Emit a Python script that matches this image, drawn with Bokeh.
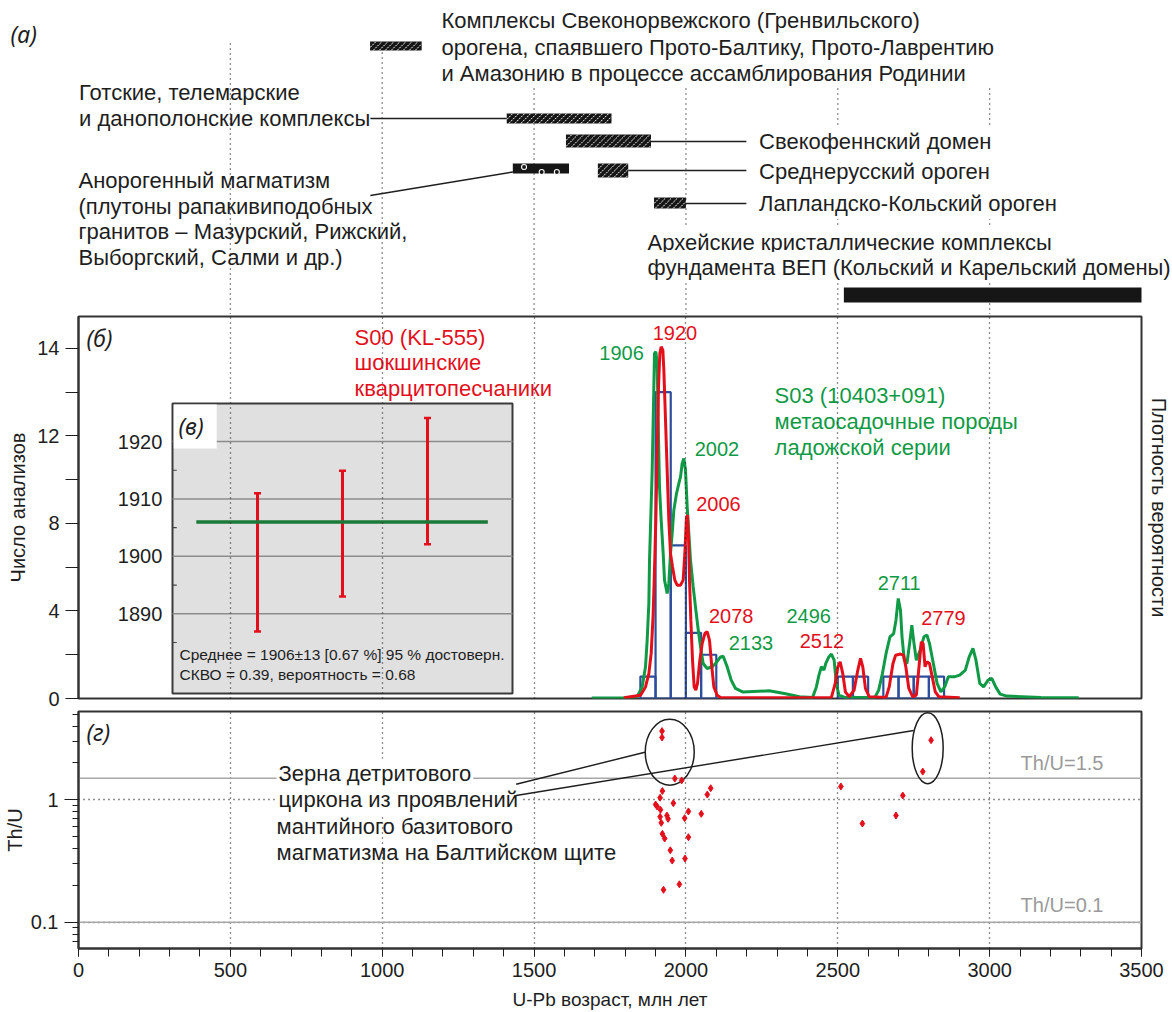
import math
from bokeh.plotting import figure
from bokeh.models import Range1d, FixedTicker, Span, Grid, LinearAxis
from bokeh.layouts import column
from bokeh.embed import file_html
from bokeh.resources import INLINE
from bokeh.core.properties import value

FONT = "Liberation Sans"
IFONT = "Noto Sans"
RED = "#e3101c"
GREEN = "#109a46"
DGREEN = "#1b7a3a"
BLUE = "#2e4d9c"
INK = "#1e1e1e"
GRAY = "#9a9a9a"

# ---------------- data ----------------
# (a) tectonic units, age ranges, Ma
unit_start = [960, 1410, 1605, 1430, 1710, 1895, 2520]
unit_end = [1130, 1755, 1885, 1615, 1810, 2000, 3500]
unit_hatched = [True, True, True, False, True, True, False]
rapakivi_ages = [1467, 1525, 1575]

# (б) histogram
hist_left = [1850, 1900, 1950, 2000, 2050, 2500, 2550, 2650, 2700, 2750, 2800]
hist_right = [1900, 1950, 2000, 2050, 2100, 2550, 2600, 2700, 2750, 2800, 2850]
hist_count = [1, 14, 7, 3, 2, 1, 1, 1, 1, 1, 1]

green_curve = [
    (1690, 0.02), (1800, 0.03), (1839.5, 0.08), (1855.9, 0.53), (1866.9, 1.45), (1872.4, 2.67),
    (1877.9, 4.34), (1880.1, 6.32), (1883.4, 7.85), (1888.9, 10.44), (1892.2, 12.72), (1896.5, 15.77),
    (1900.9, 15.85), (1905.3, 15.31), (1908.6, 12.72), (1913.0, 9.68), (1918.5, 8.15), (1925.1, 6.63),
    (1929.5, 5.41), (1938.2, 4.80), (1943.7, 5.26), (1949.2, 6.63), (1954.7, 7.54), (1960.2, 8.61),
    (1969.0, 9.37), (1976.7, 9.83), (1982.2, 10.13), (1987.6, 10.74), (1993.1, 10.97), (1998.6, 10.44),
    (2004.1, 8.76), (2009.6, 7.54), (2015.1, 6.32), (2023.9, 5.10), (2031.5, 4.19), (2039.2, 3.28),
    (2048.0, 2.36), (2056.8, 1.60), (2069.9, 1.37), (2086.4, 1.45), (2097.4, 1.60), (2113.9, 1.90),
    (2122.6, 1.93), (2135.8, 1.45), (2149.0, 0.84), (2163.2, 0.46), (2179.7, 0.35), (2187, 0.30),
    (2274, 0.35), (2324, 0.23), (2374, 0.08), (2417, 0.05), (2429.5, 0.53), (2438, 1.07),
    (2446, 1.45), (2454.3, 1.30), (2460.5, 1.60), (2470.5, 1.90), (2479, 2.03), (2488, 1.75),
    (2495, 0.69), (2504, 0.15), (2522.6, 0.05), (2622, 0.05), (2634.5, 0.38), (2647, 1.14),
    (2659, 2.06), (2671.8, 2.82), (2684, 2.97), (2691.6, 3.58), (2699, 4.57), (2706.5, 4.03),
    (2711.5, 2.82), (2719, 1.75), (2727.7, 1.60), (2736.4, 2.51), (2743.8, 3.35), (2751, 2.51),
    (2758.7, 1.75), (2771, 2.21), (2783.6, 2.82), (2793.5, 2.90), (2802, 2.51), (2814.6, 1.60),
    (2827, 0.69), (2839.5, 0.30), (2852, 0.53), (2864, 0.99), (2883, 0.99), (2901.6, 1.07),
    (2920, 1.30), (2932.7, 1.90), (2945, 2.29), (2955, 1.75), (2967.5, 0.69), (2980, 0.53),
    (2995, 0.84), (3007, 0.92), (3020, 0.53), (3034.5, 0.20), (3057, 0.11), (3169, 0.05), (3293, 0.03),
]
red_curve = [
    (1795.6, 0.03), (1850.5, 0.15), (1866.9, 0.53), (1877.9, 1.14), (1885.6, 2.06), (1892.2, 3.88),
    (1896.5, 5.87), (1900.9, 8.15), (1905.3, 11.2), (1909.7, 14.25), (1914.1, 15.77), (1918.5, 16.08),
    (1924.0, 15.92), (1927.3, 15.01), (1932.8, 12.72), (1938.2, 10.44), (1943.7, 8.15), (1949.2, 6.63),
    (1955.8, 6.02), (1963.5, 5.41), (1971.2, 5.18), (1982.2, 5.18), (1990.9, 5.41), (1996.4, 6.63),
    (2001.9, 8.30), (2005.2, 8.38), (2008.5, 7.39), (2011.8, 5.41), (2016.2, 3.58), (2021.7, 1.75),
    (2027.1, 0.53), (2032.6, 0.38), (2038.1, 0.69), (2045.8, 1.75), (2053.5, 2.51), (2062.3, 2.97),
    (2069.9, 3.05), (2077.6, 2.67), (2084.2, 1.60), (2091.9, 0.53), (2102.9, 0.15), (2113.9, 0.05),
    (2300, 0.03), (2479, 0.05), (2491.6, 0.69), (2500.3, 1.45), (2507.8, 1.68), (2516.4, 1.14),
    (2525, 0.30), (2537.6, 0.08), (2553.7, 0.38), (2566, 1.30), (2574.9, 1.83), (2582.3, 1.45),
    (2591, 0.46), (2603.4, 0.08), (2659, 0.05), (2669.3, 0.53), (2681.7, 1.60), (2690.4, 1.98),
    (2706.5, 2.03), (2716.5, 1.98), (2724, 1.45), (2733.9, 0.46), (2746.3, 0.08), (2758.7, 0.15),
    (2767.4, 1.45), (2774.9, 2.59), (2781, 2.51), (2787.3, 1.45), (2793.5, 1.68), (2802, 1.60),
    (2811, 0.99), (2821, 0.30), (2833, 0.08), (2901.6, 0.03),
]
green_age = [a for a, _ in green_curve]
green_val = [v for _, v in green_curve]
red_age = [a for a, _ in red_curve]
red_val = [v for _, v in red_curve]

peak_text = ["1906", "1920", "2002", "2006", "2078", "2133", "2496", "2512", "2711", "2779"]
peak_color = [GREEN, RED, GREEN, RED, RED, GREEN, GREEN, RED, GREEN, RED]

# (в) weighted mean inset
inset_idx = [1, 2, 3]
inset_lo = [1886.9, 1893.0, 1902.1]
inset_hi = [1911.0, 1914.9, 1924.1]
inset_mean = 1906
inset_ticks = [1890, 1900, 1910, 1920]
inset_minor = [1885, 1895, 1905, 1915]

# (г) Th/U vs age
thu_age = [1921.3, 1921.3, 1963.5, 1985.9, 1922.5, 1915.0, 1958.6, 1900.2, 1905.1, 1916.3, 1937.4,
           1915.0, 1941.2, 1995.8, 2008.2, 2050.5, 1918.8, 2070.4, 2081.6, 1922.5, 1930.0, 2008.2,
           1948.6, 1954.8, 1997.0, 1978.4, 1926.2, 2510.2, 2581.0, 2691.6, 2714.0, 2779.8, 2807.2]
thu_val = [3.64, 3.23, 1.49, 1.44, 1.18, 1.04, 0.939, 0.915, 0.882, 0.828, 0.744,
           0.726, 0.699, 0.708, 0.803, 0.768, 0.648, 1.104, 1.244, 0.527, 0.483, 0.495,
           0.387, 0.319, 0.331, 0.204, 0.184, 1.284, 0.640, 0.744, 1.084, 1.70, 3.07]
thu_refs = [1.5, 0.1]

age_ticks = [0, 500, 1000, 1500, 2000, 2500, 3000, 3500]
age_grid = [500, 1000, 1500, 2000, 2500, 3000]

# ---------------- layout ----------------
W = 1172
LB, RB = 78, 31
FW = W - LB - RB
PX = FW / 3500.0
TXT = "22px"
NUM = "20px"


def style_text(**kw):
    d = dict(text_font=value(FONT), text_baseline="middle")
    d.update(kw)
    return d


# ----- panel (a) -----
pa = figure(width=W, height=314, x_range=Range1d(-LB / PX, 3500 + RB / PX), y_range=Range1d(314, 0),
            x_axis_location=None, y_axis_location=None, toolbar_location=None,
            output_backend="svg", min_border=0, outline_line_color=None, frame_align=False)
pa.grid.visible = False

vtop = [43, 52, 88, 88, 88, 88]
pa.segment(x0=age_grid, y0=vtop, x1=age_grid, y1=[314] * 6, line_color=INK, line_width=1.3,
           line_dash="1 4")

bar_y0 = [41, 113, 134, 163, 163, 197, 287]
bar_y1 = [50, 123, 147, 173, 177, 208, 302]
pa.quad(left=unit_start, right=unit_end, top=bar_y0, bottom=bar_y1, fill_color="#161616",
        line_color=None)

# white diagonal hatch over the hatched bars (derived from bar extents)
hx0, hy0, hx1, hy1 = [], [], [], []
step = 6.0
for i, h in enumerate(unit_hatched):
    if not h:
        continue
    Lp, Rp = unit_start[i] * PX, unit_end[i] * PX
    T, B = bar_y0[i], bar_y1[i]
    hh = B - T
    a = Lp - hh
    while a < Rp:
        pmin = max(0.0, (Lp - a) / hh)
        pmax = min(1.0, (Rp - a) / hh)
        if pmax > pmin:
            hx0.append((a + pmin * hh) / PX)
            hy0.append(B - pmin * hh)
            hx1.append((a + pmax * hh) / PX)
            hy1.append(B - pmax * hh)
        a += step
pa.segment(x0=hx0, y0=hy0, x1=hx1, y1=hy1, line_color="white", line_width=1.0, line_dash="2 1")

pa.scatter(x=rapakivi_ages, y=[166.5, 171.5, 171.5], marker="circle", size=5,
           fill_color="#161616", line_color="white", line_width=1.1)

lx0 = [961, unit_end[2], unit_end[4], unit_end[5], 961]
lx1 = [unit_start[1], 2199, 2199, 2199, unit_start[3]]
ly0 = [118, 141, 170, 203, 195]
ly1 = [118, 141, 170, 203, 171.5]
pa.segment(x0=lx0, y0=ly0, x1=lx1, y1=ly1, line_color=INK, line_width=1.4)

a_left_txt = ["Комплексы Свеконорвежского (Гренвильского)",
              "орогена, спаявшего Прото-Балтику, Прото-Лаврентию",
              "и Амазонию в процессе ассамблирования Родинии",
              "Готские, телемарские", "и данополонские комплексы",
              "Анорогенный магматизм", "(плутоны рапакивиподобных",
              "гранитов – Мазурский, Рижский,", "Выборгский, Салми и др.)"]
a_left_x = [1195, 1195, 1195, 2, 2, 0, 0, 0, 0]
a_left_y = [20, 47, 73, 92, 118, 180, 205.5, 231, 256.5]
pa.text(x=a_left_x, y=a_left_y, text=a_left_txt, text_color=INK,
        **style_text(text_font_size=TXT, text_align="left"))

a_right_txt = ["Свекофеннский домен", "Среднерусский ороген", "Лапландско-Кольский ороген",
               "Архейские кристаллические комплексы",
               "фундамента ВЕП (Кольский и Карельский домены)"]
a_right_x = [2231, 2231, 2231, 1864, 1864]
a_right_y = [141, 171, 203, 242, 267]
pa.text(x=a_right_x, y=a_right_y, text=a_right_txt, text_color=INK,
        background_fill_color="white", padding=3,
        **style_text(text_font_size=TXT, text_align="left"))

pa.text(x=[-224], y=[33], text=["(а)"], text_color=INK, text_font=value(IFONT),
        text_font_style="italic", text_font_size="23px", text_baseline="middle")

# ----- panel (б) -----
xr = Range1d(0, 3500)
pb = figure(width=W, height=396, x_range=xr, y_range=Range1d(0, 17.46),
            x_axis_location=None, toolbar_location=None, output_backend="svg",
            min_border_left=LB, min_border_right=RB, min_border_top=2, min_border_bottom=12,
            outline_line_color="#333333", outline_line_width=2)
pb.grid.visible = False
pb.add_layout(Grid(dimension=0, ticker=FixedTicker(ticks=age_grid), grid_line_color=INK,
                   grid_line_width=1.3, grid_line_dash="1 4", level="overlay"))
ya = pb.yaxis[0]
ya.ticker = FixedTicker(ticks=list(range(0, 17, 2)))
ya.major_label_overrides = {0: "0", 2: "", 4: "4", 6: "", 8: "8", 10: "", 12: "12", 14: "", 16: "14"}
ya.major_tick_out = 13
ya.major_tick_in = 0
ya.minor_tick_out = 0
ya.major_tick_line_color = INK
ya.axis_line_color = "#333333"
ya.axis_line_width = 2
ya.major_label_standoff = 6
ya.major_label_text_font = FONT
ya.major_label_text_font_size = NUM
ya.major_label_text_color = INK
ya.axis_label = "Число анализов"
ya.axis_label_standoff = 5
ya.axis_label_text_font = FONT
ya.axis_label_text_font_size = "20px"
ya.axis_label_text_font_style = "normal"
ya.axis_label_text_color = INK

ra = LinearAxis(ticker=FixedTicker(ticks=[]), axis_label="Плотность вероятности",
                axis_line_color=None, major_tick_out=0, major_tick_in=0, minor_tick_out=0,
                minor_tick_in=0, major_label_text_font_size="0px", major_label_standoff=0,
                axis_label_standoff=6, axis_label_text_font=FONT, axis_label_text_font_size="20px",
                axis_label_text_font_style="normal", axis_label_text_color=INK)
pb.add_layout(ra, "right")

pb.quad(left=hist_left, right=hist_right, bottom=0, top=hist_count, fill_color=None,
        line_color=BLUE, line_width=2.2)
pb.line(green_age, green_val, line_color=GREEN, line_width=3)
pb.line(red_age, red_val, line_color=RED, line_width=3)

peak_x = [1788, 1964, 2102, 2107, 2149, 2214, 2404, 2448, 2702, 2848]
peak_y = [15.77, 16.70, 11.42, 8.87, 3.75, 2.53, 3.75, 2.65, 5.27, 3.66]
pb.text(x=peak_x, y=peak_y, text=peak_text, text_color=peak_color,
        **style_text(text_font_size=NUM, text_align="center"))

pb.text(x=[909, 909, 909], y=[16.52, 15.34, 14.17],
        text=["S00 (KL-555)", "шокшинские", "кварцитопесчаники"], text_color=RED,
        **style_text(text_font_size=TXT, text_align="left"))
pb.text(x=[2292, 2292, 2292], y=[13.85, 12.68, 11.49],
        text=["S03 (10403+091)", "метаосадочные породы", "ладожской серии"], text_color=GREEN,
        **style_text(text_font_size=TXT, text_align="left"))
pb.text(x=[26], y=[16.5], text=["(б)"], text_color=INK, text_font=value(IFONT),
        text_font_style="italic", text_font_size="23px", text_baseline="middle")

# inset (в) on its own ranges
pb.extra_x_ranges = {"ix": Range1d(-1.1059, 11.4)}
pb.extra_y_ranges = {"iy": Range1d(1875.25, 1941.77)}
ik = dict(x_range_name="ix", y_range_name="iy")
pb.quad(left=[0], right=[4], bottom=[1876.1], top=[1926.6], fill_color="#e0e0e0",
        line_color="#3a3a3a", line_width=2, **ik)
pb.segment(x0=[0] * 4, x1=[4] * 4, y0=inset_ticks, y1=inset_ticks, line_color="#8c8c8c",
           line_width=1.5, **ik)
pb.segment(x0=[0] * 4, x1=[0.05] * 4, y0=inset_minor, y1=inset_minor, line_color="#444444",
           line_width=1.2, **ik)
pb.quad(left=[0.015], right=[0.52], bottom=[1918.8], top=[1926.45], fill_color="white",
        line_color=None, **ik)
pb.text(x=[0.07], y=[1922.7], text=["(в)"], text_color=INK, text_font=value(IFONT),
        text_font_style="italic", text_font_size="23px", text_baseline="middle", **ik)
pb.text(x=[-0.12] * 4, y=inset_ticks, text=[str(t) for t in inset_ticks], text_color=INK,
        **style_text(text_font_size=NUM, text_align="right"), **ik)
pb.segment(x0=inset_idx, x1=inset_idx, y0=inset_lo, y1=inset_hi, line_color=RED, line_width=3, **ik)
pb.scatter(x=inset_idx + inset_idx, y=inset_lo + inset_hi, marker="dash", size=7,
           line_color=RED, line_width=2.5, **ik)
pb.segment(x0=[0.28], x1=[3.71], y0=[inset_mean], y1=[inset_mean], line_color=DGREEN,
           line_width=3.5, **ik)
pb.text(x=[0.082, 0.082], y=[1882.9, 1879.4],
        text=["Среднее = 1906±13 [0.67 %] 95 % достоверн.", "СКВО = 0.39, вероятность = 0.68"],
        text_color=INK, **style_text(text_font_size="15.5px", text_align="left"), **ik)

# ----- panel (г) -----
pg = figure(width=W, height=302, x_range=xr, y_range=Range1d(0.061, 5.265), y_axis_type="log",
            toolbar_location=None, output_backend="svg",
            min_border_left=LB, min_border_right=RB, min_border_top=1, min_border_bottom=64,
            outline_line_color="#333333", outline_line_width=2)
xa = pg.xaxis[0]
xa.ticker = FixedTicker(ticks=age_ticks, minor_ticks=list(range(0, 3501, 100)))
xa.major_tick_out = 8
xa.minor_tick_out = 8
xa.major_tick_in = 0
xa.minor_tick_in = 0
xa.major_label_standoff = 6
xa.axis_label = "U-Pb возраст, млн лет"
xa.axis_label_standoff = 9
yg = pg.yaxis[0]
yg.ticker = FixedTicker(ticks=[0.1, 1], minor_ticks=[0.07, 0.08, 0.09, 0.2, 0.3, 0.4, 0.5, 0.6, 0.7,
                                                     0.8, 0.9, 2, 3, 4, 5])
yg.major_label_overrides = {0.1: "0.1", 1: "1"}
yg.major_tick_out = 14
yg.minor_tick_out = 6
yg.major_tick_in = 0
yg.minor_tick_in = 0
yg.major_label_standoff = 6
yg.axis_label = "Th/U"
yg.axis_label_standoff = 2
for ax in (xa, yg):
    ax.axis_line_color = "#333333"
    ax.axis_line_width = 2
    ax.major_tick_line_color = INK
    ax.minor_tick_line_color = INK
    ax.major_label_text_font = FONT
    ax.major_label_text_font_size = NUM
    ax.major_label_text_color = INK
    ax.axis_label_text_font = FONT
    ax.axis_label_text_font_size = "20px"
    ax.axis_label_text_font_style = "normal"
    ax.axis_label_text_color = INK
xa.axis_label_text_font_size = "19px"

pg.xgrid.ticker = FixedTicker(ticks=age_grid)
pg.ygrid.ticker = FixedTicker(ticks=[0.1, 1])
for g in (pg.xgrid, pg.ygrid):
    g.grid_line_color = INK
    g.grid_line_width = 1.3
    g.grid_line_dash = "1 4"

for r in thu_refs:
    pg.add_layout(Span(location=r, dimension="width", line_color="#a8a8a8", line_width=1.5,
                       level="underlay"))

pg.text(x=[652, 652], y=[1.649, 1.0], text=["Зерна детритового", "циркона из проявлений"],
        text_color=INK, background_fill_color="white", padding=2,
        **style_text(text_font_size=TXT, text_align="left"))
pg.text(x=[652, 652], y=[0.605, 0.373], text=["мантийного базитового", "магматизма на Балтийском щите"],
        text_color=INK, **style_text(text_font_size=TXT, text_align="left"))
pg.text(x=[3102, 3102], y=[1.99, 0.137], text=["Th/U=1.5", "Th/U=0.1"], text_color=GRAY,
        **style_text(text_font_size=NUM, text_align="left"))
pg.text(x=[26], y=[3.61], text=["(г)"], text_color=INK, text_font=value(IFONT),
        text_font_style="italic", text_font_size="23px", text_baseline="middle")

pg.segment(x0=[1441, 1441], y0=[1.339, 1.084], x1=[1865, 2750], y1=[2.447, 3.68],
           line_color=INK, line_width=1.4)
pg.ellipse(x=[1946.7, 2796], y=[2.45, 2.64], width=[49, 31], height=[66, 71],
           width_units="screen", height_units="screen", fill_color=None, line_color=INK,
           line_width=1.5)
pg.scatter(thu_age, thu_val, marker="diamond", size=7, fill_color=RED, line_color=RED)

layout = column(pa, pb, pg, spacing=0)
open("out.html", "w").write(file_html(layout, INLINE))
